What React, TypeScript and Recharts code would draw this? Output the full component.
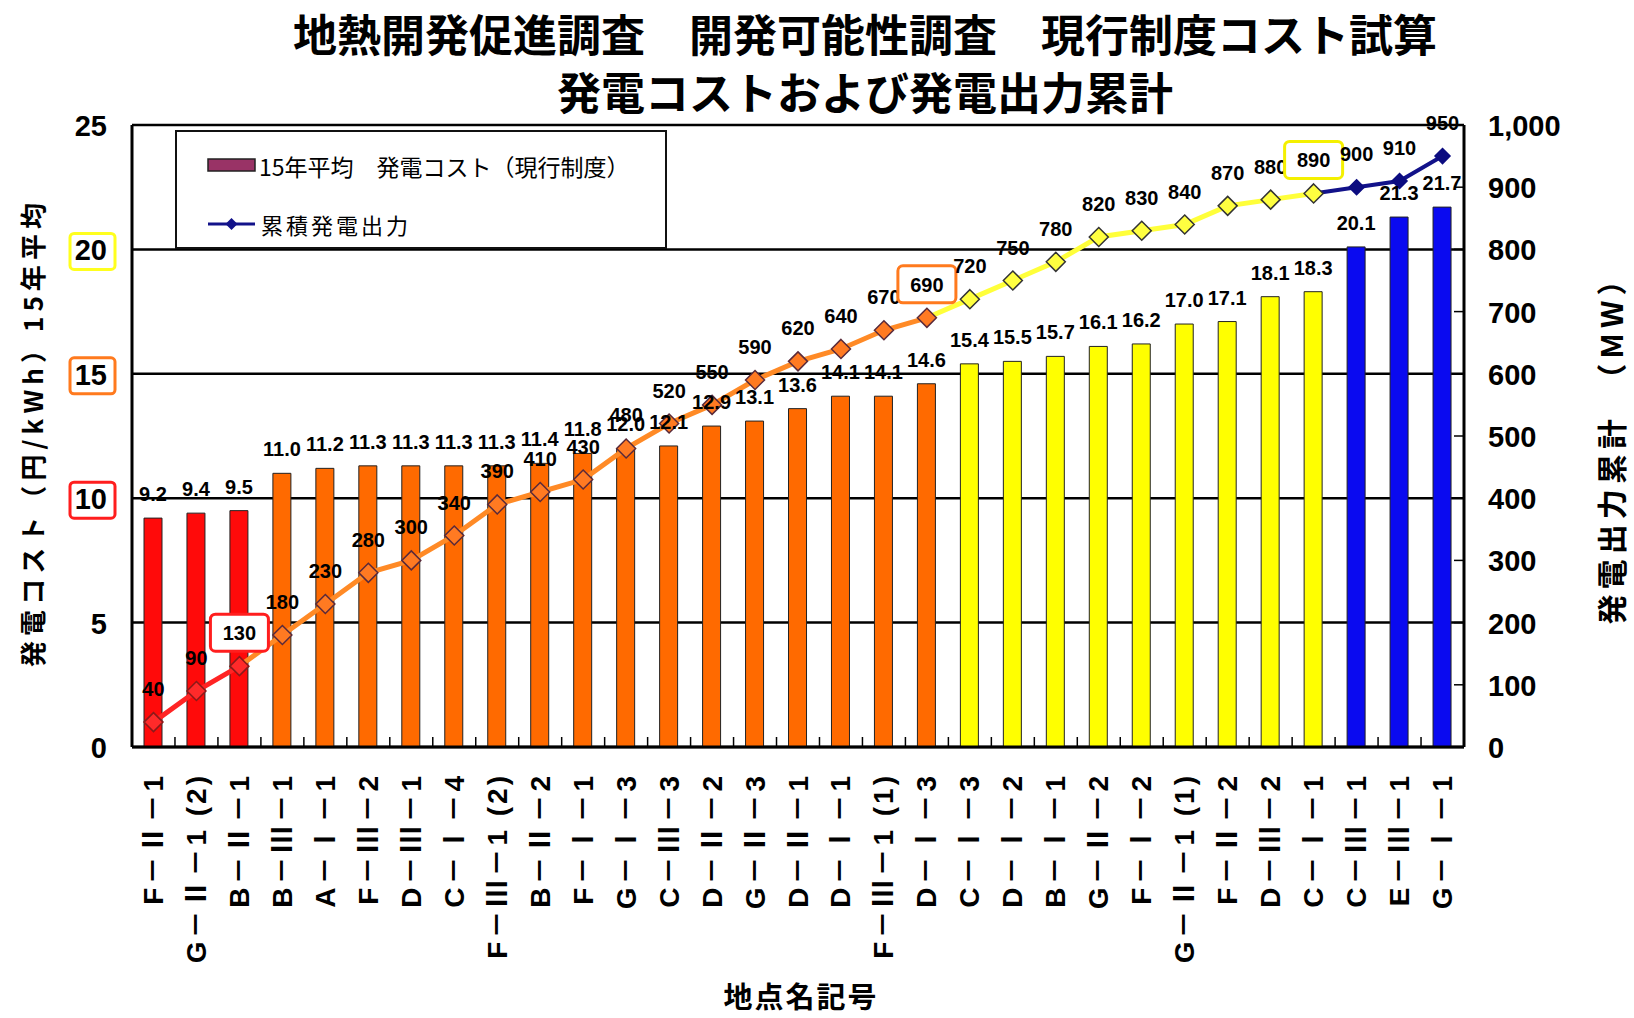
import React from "react";
import {
  ComposedChart,
  Bar,
  Line,
  XAxis,
  YAxis,
  CartesianGrid,
  Cell,
  LabelList,
  Legend,
  Customized,
} from "recharts";

// 地点名記号 (x categories)
const sites = [
  "F－Ⅱ－1",
  "G－Ⅱ－1 (2)",
  "B－Ⅱ－1",
  "B－Ⅲ－1",
  "A－Ⅰ－1",
  "F－Ⅲ－2",
  "D－Ⅲ－1",
  "C－Ⅰ－4",
  "F－Ⅲ－1 (2)",
  "B－Ⅱ－2",
  "F－Ⅰ－1",
  "G－Ⅰ－3",
  "C－Ⅲ－3",
  "D－Ⅱ－2",
  "G－Ⅱ－3",
  "D－Ⅱ－1",
  "D－Ⅰ－1",
  "F－Ⅲ－1 (1)",
  "D－Ⅰ－3",
  "C－Ⅰ－3",
  "D－Ⅰ－2",
  "B－Ⅰ－1",
  "G－Ⅱ－2",
  "F－Ⅰ－2",
  "G－Ⅱ－1 (1)",
  "F－Ⅱ－2",
  "D－Ⅲ－2",
  "C－Ⅰ－1",
  "C－Ⅲ－1",
  "E－Ⅲ－1",
  "G－Ⅰ－1",
];

// 15年平均 発電コスト (円/kWh)
const cost = [
  9.2, 9.4, 9.5, 11.0, 11.2, 11.3, 11.3, 11.3, 11.3, 11.4, 11.8, 12.0, 12.1,
  12.9, 13.1, 13.6, 14.1, 14.1, 14.6, 15.4, 15.5, 15.7, 16.1, 16.2, 17.0, 17.1,
  18.1, 18.3, 20.1, 21.3, 21.7,
];

// 累積発電出力 (MW)
const mwTotal = [
  40, 90, 130, 180, 230, 280, 300, 340, 390, 410, 430, 480, 520, 550, 590, 620,
  640, 670, 690, 720, 750, 780, 820, 830, 840, 870, 880, 890, 900, 910, 950,
];

// cost band of each site (bar colour group)
const siteGroup = [
  "red", "red", "red",
  "orange", "orange", "orange", "orange", "orange", "orange", "orange", "orange",
  "orange", "orange", "orange", "orange", "orange", "orange", "orange", "orange",
  "yellow", "yellow", "yellow", "yellow", "yellow", "yellow", "yellow", "yellow", "yellow",
  "blue", "blue", "blue",
];

const costTicks = [0, 5, 10, 15, 20, 25];
const mwTicks = [0, 100, 200, 300, 400, 500, 600, 700, 800, 900, 1000];

const groupStyle: Record<string, { bar: string; line: string; marker: string; markerStroke: string }> = {
  red: { bar: "#FF0A0A", line: "#FF2424", marker: "#FF2A2A", markerStroke: "#8A1A1A" },
  orange: { bar: "#FF6A00", line: "#FF8A26", marker: "#FF7A22", markerStroke: "#5A2A3A" },
  yellow: { bar: "#FFFF00", line: "#FFFF3A", marker: "#FFFF40", markerStroke: "#333333" },
  blue: { bar: "#0A0AF0", line: "#12128A", marker: "#0C0C80", markerStroke: "#0C0C80" },
};

// highlighted boxes
const costBox: Record<number, string> = { 10: "#FF1E1E", 15: "#FF7A1E", 20: "#FFFF1E" };
const mwBox: Record<number, string> = { 2: "#FF1E1E", 18: "#FF7A1E", 27: "#F4F000" };

const groups = ["red", "orange", "yellow", "blue"];

const inSegment = (i: number, g: string) =>
  siteGroup[i] === g ||
  (i + 1 < siteGroup.length && siteGroup[i + 1] === g && siteGroup[i] !== g);

const rows = sites.map((site, i) => {
  const row: Record<string, string | number | null> = {
    site,
    cost: cost[i],
    mw: mwTotal[i],
  };
  groups.forEach((g) => {
    row["line_" + g] = inSegment(i, g) ? mwTotal[i] : null;
  });
  return row;
});

const FONT = '"Liberation Sans", Arial, "Noto Sans CJK JP", sans-serif';
const JP = '"Noto Sans CJK JP", sans-serif';

const PLOT_LEFT = 132;
const PLOT_RIGHT = 1464;
const PLOT_BOTTOM = 747;
const BAND = (PLOT_RIGHT - PLOT_LEFT) / sites.length;

const SiteTick = (props: any) => {
  const { x, payload } = props;
  return (
    <g>
      <line
        x1={x - BAND / 2}
        x2={x - BAND / 2}
        y1={PLOT_BOTTOM}
        y2={PLOT_BOTTOM - 10}
        stroke="#000"
        strokeWidth={1.5}
      />
      <text
        transform={`translate(${x},${PLOT_BOTTOM + 26}) rotate(-90)`}
        textAnchor="end"
        dominantBaseline="central"
        fontSize={28}
        fontWeight={700}
        fill="#000"
        letterSpacing={3}
      >
        {payload.value}
      </text>
    </g>
  );
};

const CostTick = (props: any) => {
  const { y, payload } = props;
  const box = costBox[payload.value];
  return (
    <g>
      {box && (
        <rect x={70} y={y - 16} width={45} height={36} rx={4} fill="#fff" stroke={box} strokeWidth={3} />
      )}
      <text x={107} y={y + 1} textAnchor="end" dominantBaseline="central" fontSize={29} fontWeight={700} fill="#000">
        {payload.value}
      </text>
    </g>
  );
};

const MwTick = (props: any) => {
  const { y, payload } = props;
  return (
    <g>
      <line x1={PLOT_RIGHT} x2={PLOT_RIGHT - 10} y1={y} y2={y} stroke="#000" strokeWidth={1.5} />
      <text x={1488} y={y + 1} dominantBaseline="central" fontSize={29} fontWeight={700} fill="#000">
        {payload.value.toLocaleString("en-US")}
      </text>
    </g>
  );
};

const CostLabel = (props: any) => {
  const { x, y, width, value } = props;
  return (
    <text x={x + width / 2} y={y - 17} textAnchor="middle" fontSize={20} fontWeight={700} fill="#000">
      {Number(value).toFixed(1)}
    </text>
  );
};

const MwLabel = (props: any) => {
  const { x, y, value, index } = props;
  const box = mwBox[index];
  return (
    <g>
      {box && (
        <rect x={x - 29} y={y - 52} width={58} height={37} rx={5} fill="#fff" stroke={box} strokeWidth={3} />
      )}
      <text x={x} y={y - 26} textAnchor="middle" fontSize={20} fontWeight={700} fill="#000">
        {value}
      </text>
    </g>
  );
};

const renderDot = (p: any) => {
  const { cx, cy, index } = p;
  if (cx == null || cy == null) return <g key={index} />;
  const st = groupStyle[siteGroup[index]];
  const r = siteGroup[index] === "blue" ? 7.5 : 9.5;
  return (
    <path
      key={index}
      d={`M${cx},${cy - r}L${cx + r},${cy}L${cx},${cy + r}L${cx - r},${cy}Z`}
      fill={st.marker}
      stroke={st.markerStroke}
      strokeWidth={1.5}
    />
  );
};

const LegendBox = () => (
  <svg width={492} height={119} style={{ display: "block" }}>
    <rect x={1} y={1} width={490} height={117} fill="#fff" stroke="#111" strokeWidth={2} />
    <rect x={33} y={29} width={47} height={12} fill="#993366" stroke="#222" strokeWidth={1.5} />
    <text x={84} y={36} dominantBaseline="central" fontSize={23} fill="#000" fontFamily={JP}>
      15年平均　発電コスト（現行制度）
    </text>
    <line x1={33} x2={80} y1={94} y2={94} stroke="#12128A" strokeWidth={3} />
    <path d="M56.5,88L62.5,94L56.5,100L50.5,94Z" fill="#12128A" />
    <text x={86} y={94} dominantBaseline="central" fontSize={22} fill="#000" fontFamily={JP} letterSpacing={3}>
      累積発電出力
    </text>
  </svg>
);

const Titles = () => (
  <g fill="#000" fontFamily={JP}>
    <text x={865} y={33} textAnchor="middle" dominantBaseline="central" fontSize={44} fontWeight={700}>
      地熱開発促進調査　開発可能性調査　現行制度コスト試算
    </text>
    <text x={865} y={91} textAnchor="middle" dominantBaseline="central" fontSize={44} fontWeight={700}>
      発電コストおよび発電出力累計
    </text>
    <text
      transform="translate(31,435) rotate(-90)"
      textAnchor="middle"
      dominantBaseline="central"
      fontSize={26}
      fontWeight={700}
      textLength={464}
      lengthAdjust="spacing"
    >
      発電コスト（円/kWh）15年平均
    </text>
    <text
      transform="translate(1610,445) rotate(-90)"
      textAnchor="middle"
      dominantBaseline="central"
      fontSize={30}
      fontWeight={700}
      textLength={359}
      lengthAdjust="spacing"
    >
      発電出力累計　（MW）
    </text>
    <text x={801} y={995} textAnchor="middle" dominantBaseline="central" fontSize={29} fontWeight={700} letterSpacing={2}>
      地点名記号
    </text>
  </g>
);

export default function App() {
  return (
    <div style={{ position: "absolute", left: 0, top: 0, width: 1634, height: 1018, background: "#fff" }}>
      <ComposedChart
        width={1634}
        height={1018}
        data={rows}
        margin={{ top: 125, right: 0, bottom: 0, left: 0 }}
        style={{ fontFamily: FONT }}
      >
        <CartesianGrid yAxisId="cost" vertical={false} stroke="#000" strokeWidth={2.5} />
        <XAxis
          dataKey="site"
          interval={0}
          height={271}
          tickLine={false}
          axisLine={{ stroke: "#000", strokeWidth: 3 }}
          tick={<SiteTick />}
        />
        <YAxis
          yAxisId="cost"
          domain={[0, 25]}
          ticks={costTicks}
          width={132}
          tickLine={false}
          axisLine={{ stroke: "#000", strokeWidth: 3 }}
          tick={<CostTick />}
        />
        <YAxis
          yAxisId="mw"
          orientation="right"
          domain={[0, 1000]}
          ticks={mwTicks}
          width={170}
          tickLine={false}
          axisLine={{ stroke: "#000", strokeWidth: 3 }}
          tick={<MwTick />}
        />
        <Legend
          layout="vertical"
          align="center"
          verticalAlign="middle"
          content={<LegendBox />}
          wrapperStyle={{ left: 175, top: 130, width: 492, height: 119, bottom: "auto", right: "auto" }}
        />
        <Bar yAxisId="cost" dataKey="cost" barSize={18} stroke="#222" strokeWidth={1} isAnimationActive={false}>
          {rows.map((_, i) => (
            <Cell key={i} fill={groupStyle[siteGroup[i]].bar} />
          ))}
          <LabelList dataKey="cost" content={<CostLabel />} />
        </Bar>
        {groups.map((g) => (
          <Line
            key={g}
            yAxisId="mw"
            dataKey={"line_" + g}
            stroke={groupStyle[g].line}
            strokeWidth={g === "blue" ? 4 : 5}
            dot={false}
            activeDot={false}
            isAnimationActive={false}
            legendType="none"
          />
        ))}
        <Line
          yAxisId="mw"
          dataKey="mw"
          stroke="none"
          dot={renderDot}
          activeDot={false}
          isAnimationActive={false}
        >
          <LabelList dataKey="mw" content={<MwLabel />} />
        </Line>
        <Customized component={<Titles />} />
      </ComposedChart>
    </div>
  );
}
